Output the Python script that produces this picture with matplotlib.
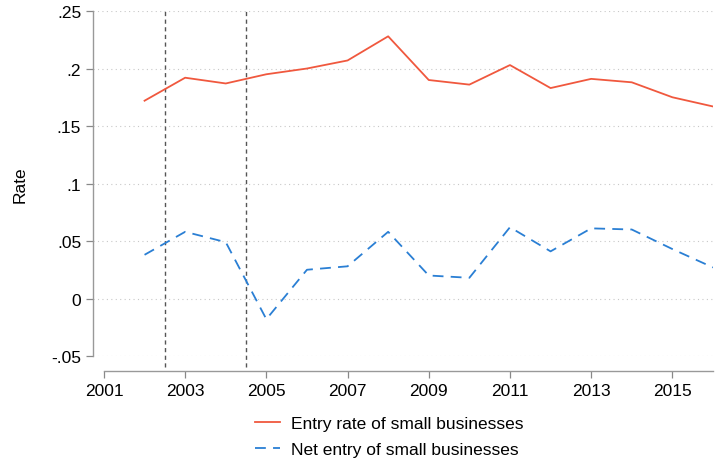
import matplotlib
matplotlib.use("Agg")
import matplotlib.pyplot as plt

plt.rcParams['font.family'] = ['Liberation Sans', 'DejaVu Sans']

years = [2002, 2003, 2004, 2005, 2006, 2007, 2008, 2009, 2010, 2011, 2012, 2013, 2014, 2015, 2016]
entry_rate = [0.172, 0.192, 0.187, 0.195, 0.200, 0.207, 0.228, 0.190, 0.186, 0.203, 0.183, 0.191, 0.188, 0.175, 0.167]
net_entry = [0.038, 0.058, 0.049, -0.018, 0.025, 0.028, 0.058, 0.020, 0.018, 0.062, 0.041, 0.061, 0.060, 0.043, 0.027]
event_years = [2002.5, 2004.5]
xticks = [2001, 2003, 2005, 2007, 2009, 2011, 2013, 2015]
yticks = [-0.05, 0, 0.05, 0.1, 0.15, 0.2, 0.25]
ytick_labels = ['-.05', '0', '.05', '.1', '.15', '.2', '.25']

fs = 12.5
fig = plt.figure(figsize=(7.18, 4.64), dpi=100)
ax = fig.add_axes([0.1295, 0.2306, 0.8635, 0.7435])

for yv in yticks:
    ax.axhline(yv, color='#c8c8c8', lw=0.8, ls=(0, (1, 3)), zorder=0)
# event lines reach down to the offset x axis
for ev in event_years:
    ax.axvline(ev, ymin=-11 / 345, ymax=1, color='#555555', lw=1.0,
               ls=(0, (3, 2.5)), zorder=1, clip_on=False)

ax.plot(years, entry_rate, color='#F0583E', lw=1.3, label='Entry rate of small businesses', zorder=3)
ax.plot(years, net_entry, color='#2A7FD4', lw=1.3, ls=(0, (6, 4)), label='Net entry of small businesses', zorder=3)

ax.set_xlim(2000.73, 2016)
ax.set_ylim(-0.05, 0.25)
ax.set_xticks(xticks)
ax.set_yticks(yticks)
ax.set_yticklabels(ytick_labels)
ax.tick_params(labelsize=fs, colors='#888888', labelcolor='black', length=5, width=0.9)

for s in ['top', 'right']:
    ax.spines[s].set_visible(False)
for s in ['left', 'bottom']:
    ax.spines[s].set_color('#999999')
    ax.spines[s].set_linewidth(1.0)
ax.spines['bottom'].set_position(('outward', 11))
ax.spines['bottom'].set_bounds(2001, 2016)

ax.set_ylabel('Rate', fontsize=fs, labelpad=17)

fig.legend(loc='lower center', bbox_to_anchor=(0.542, -0.02), frameon=False, fontsize=fs,
           handlelength=1.45, handletextpad=0.65, labelspacing=0.6)

fig.savefig('out.png', dpi=100)
